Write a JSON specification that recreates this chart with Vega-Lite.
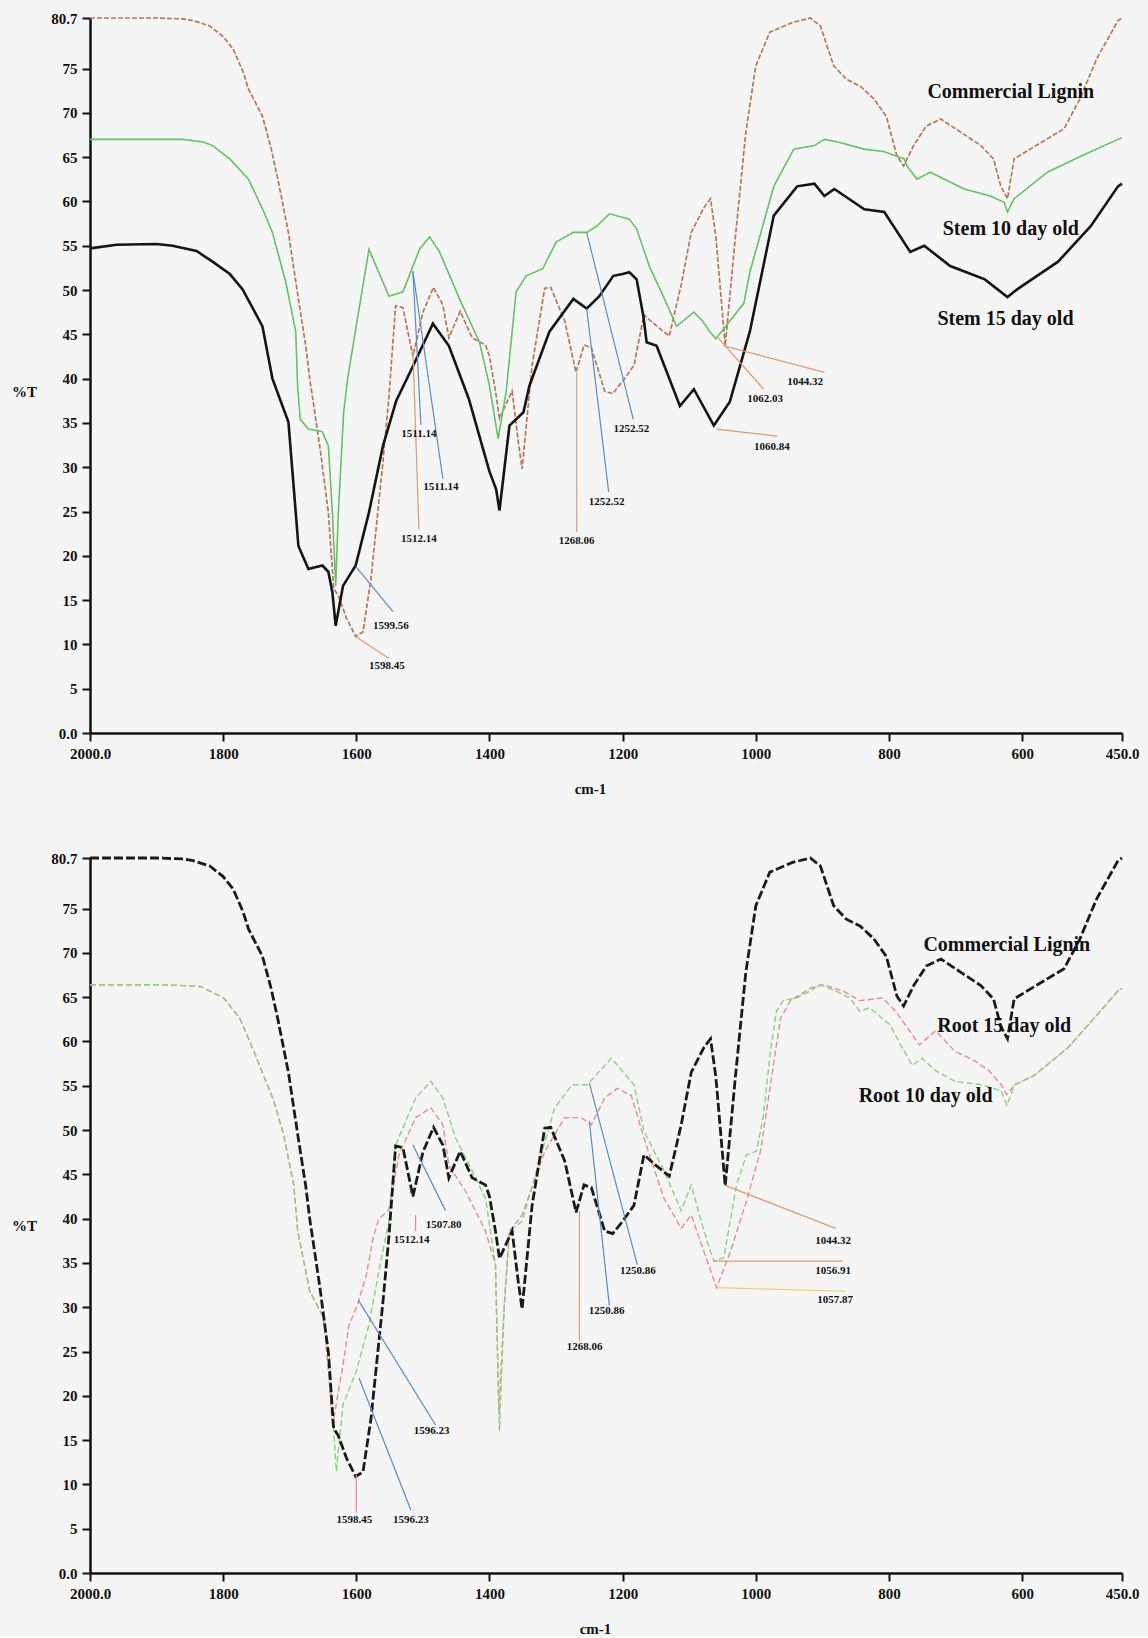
{
  "$schema": "https://vega.github.io/schema/vega-lite/v6.json",
  "background": "#f5f5f5",
  "padding": {"left": 11, "top": 11, "right": 10, "bottom": 0},
  "columns": 1,
  "spacing": 55,
  "resolve": {"scale": {"color": "independent"}},
  "config": {
    "view": {"stroke": null},
    "font": "Liberation Serif",
    "axis": {"domainColor": "#111", "domainWidth": 2.5, "tickColor": "#111", "tickWidth": 2, "tickSize": 8, "labelFont": "Liberation Serif", "labelFontSize": 15, "labelFontWeight": "bold", "labelColor": "#111", "grid": false, "titleFont": "Liberation Serif", "titleFontSize": 15, "titleFontWeight": "bold", "titleColor": "#111", "labelPadding": 5}
  },
  "datasets": {
    "lignin": [
      {"wn":2000,"T":80.7},{"wn":1950,"T":80.7},{"wn":1900,"T":80.7},{"wn":1860,"T":80.6},{"wn":1845,"T":80.4},{"wn":1820,"T":79.8},{"wn":1800,"T":78.6},{"wn":1785,"T":77.2},{"wn":1770,"T":74.6},{"wn":1762,"T":72.7},{"wn":1741,"T":69.6},{"wn":1728,"T":66},{"wn":1717,"T":62.2},{"wn":1702,"T":56.5},{"wn":1687,"T":49},{"wn":1676,"T":43.7},{"wn":1670,"T":40},{"wn":1655,"T":32.4},{"wn":1642,"T":24.9},{"wn":1634,"T":16.3},{"wn":1627,"T":15.5},{"wn":1615,"T":13},{"wn":1601,"T":10.9},{"wn":1590,"T":11.4},{"wn":1578,"T":17.4},{"wn":1560,"T":30.6},{"wn":1551,"T":38},{"wn":1541,"T":48.2},{"wn":1530,"T":48},{"wn":1515,"T":42.5},{"wn":1500,"T":47.5},{"wn":1484,"T":50.3},{"wn":1470,"T":48.3},{"wn":1461,"T":44.6},{"wn":1444,"T":47.6},{"wn":1426,"T":44.6},{"wn":1406,"T":43.8},{"wn":1400,"T":42.5},{"wn":1391,"T":38.6},{"wn":1385,"T":35.5},{"wn":1366,"T":38.6},{"wn":1357,"T":33},{"wn":1351,"T":29.8},{"wn":1336,"T":41.5},{"wn":1317,"T":50.2},{"wn":1308,"T":50.3},{"wn":1287,"T":46.5},{"wn":1270,"T":40.7},{"wn":1258,"T":43.8},{"wn":1247,"T":43.5},{"wn":1227,"T":38.6},{"wn":1215,"T":38.3},{"wn":1200,"T":39.7},{"wn":1183,"T":41.5},{"wn":1168,"T":47.2},{"wn":1150,"T":46},{"wn":1130,"T":44.8},{"wn":1112,"T":50.6},{"wn":1097,"T":56.5},{"wn":1078,"T":59.3},{"wn":1068,"T":60.3},{"wn":1060,"T":56},{"wn":1052,"T":49},{"wn":1046,"T":43.7},{"wn":1030,"T":56.5},{"wn":1015,"T":67.8},{"wn":1000,"T":75.3},{"wn":979,"T":79.1},{"wn":945,"T":80.2},{"wn":918,"T":80.7},{"wn":903,"T":79.8},{"wn":883,"T":75.3},{"wn":864,"T":73.8},{"wn":843,"T":73},{"wn":823,"T":71.6},{"wn":804,"T":69.6},{"wn":788,"T":65.1},{"wn":778,"T":64},{"wn":763,"T":66.3},{"wn":744,"T":68.5},{"wn":722,"T":69.3},{"wn":692,"T":67.8},{"wn":662,"T":66.3},{"wn":643,"T":64.8},{"wn":632,"T":61.7},{"wn":622,"T":60.3},{"wn":612,"T":64.8},{"wn":588,"T":65.9},{"wn":537,"T":68.2},{"wn":513,"T":71.6},{"wn":488,"T":76.1},{"wn":456,"T":80.4},{"wn":450,"T":80.7}
    ],
    "stem10": [
      {"wn":2000,"T":67},{"wn":1950,"T":67},{"wn":1900,"T":67},{"wn":1861,"T":67},{"wn":1830,"T":66.7},{"wn":1816,"T":66.3},{"wn":1790,"T":64.8},{"wn":1762,"T":62.5},{"wn":1740,"T":59},{"wn":1726,"T":56.5},{"wn":1706,"T":50.9},{"wn":1691,"T":45.3},{"wn":1688,"T":38.8},{"wn":1684,"T":35.4},{"wn":1672,"T":34.3},{"wn":1651,"T":34},{"wn":1642,"T":32.4},{"wn":1636,"T":24.9},{"wn":1631,"T":16.6},{"wn":1627,"T":24.9},{"wn":1619,"T":36.2},{"wn":1613,"T":40},{"wn":1600,"T":46},{"wn":1581,"T":54.6},{"wn":1551,"T":49.3},{"wn":1530,"T":49.8},{"wn":1505,"T":54.6},{"wn":1490,"T":56},{"wn":1475,"T":54.3},{"wn":1445,"T":49},{"wn":1415,"T":44.1},{"wn":1400,"T":39.2},{"wn":1387,"T":33.2},{"wn":1375,"T":38.5},{"wn":1360,"T":49.8},{"wn":1345,"T":51.6},{"wn":1320,"T":52.4},{"wn":1300,"T":55.4},{"wn":1274,"T":56.5},{"wn":1254,"T":56.5},{"wn":1239,"T":57.2},{"wn":1220,"T":58.6},{"wn":1190,"T":58},{"wn":1179,"T":56.9},{"wn":1160,"T":52.7},{"wn":1139,"T":49.3},{"wn":1119,"T":45.9},{"wn":1093,"T":47.5},{"wn":1080,"T":46.5},{"wn":1069,"T":45.3},{"wn":1060,"T":44.5},{"wn":1039,"T":46.5},{"wn":1018,"T":48.5},{"wn":1009,"T":52},{"wn":973,"T":61.7},{"wn":943,"T":65.9},{"wn":912,"T":66.3},{"wn":897,"T":67},{"wn":877,"T":66.7},{"wn":837,"T":65.9},{"wn":807,"T":65.6},{"wn":777,"T":64.8},{"wn":773,"T":64},{"wn":758,"T":62.5},{"wn":738,"T":63.3},{"wn":687,"T":61.4},{"wn":648,"T":60.6},{"wn":627,"T":59.9},{"wn":622,"T":58.8},{"wn":612,"T":60.3},{"wn":562,"T":63.3},{"wn":512,"T":65.1},{"wn":456,"T":67},{"wn":450,"T":67.2}
    ],
    "stem15": [
      {"wn":2000,"T":54.7},{"wn":1960,"T":55.1},{"wn":1900,"T":55.2},{"wn":1876,"T":55},{"wn":1840,"T":54.4},{"wn":1816,"T":53.2},{"wn":1790,"T":51.8},{"wn":1771,"T":50.1},{"wn":1741,"T":45.9},{"wn":1726,"T":40},{"wn":1702,"T":35.1},{"wn":1691,"T":24.9},{"wn":1687,"T":21.1},{"wn":1672,"T":18.5},{"wn":1651,"T":18.9},{"wn":1642,"T":18.2},{"wn":1636,"T":15.9},{"wn":1631,"T":12.1},{"wn":1620,"T":16.6},{"wn":1601,"T":18.9},{"wn":1581,"T":24.9},{"wn":1560,"T":32.4},{"wn":1540,"T":37.5},{"wn":1515,"T":41.4},{"wn":1485,"T":46.2},{"wn":1461,"T":43.7},{"wn":1431,"T":37.7},{"wn":1400,"T":29.5},{"wn":1390,"T":27.5},{"wn":1385,"T":25.1},{"wn":1370,"T":34.7},{"wn":1349,"T":36.2},{"wn":1340,"T":39.2},{"wn":1310,"T":45.3},{"wn":1274,"T":49},{"wn":1254,"T":47.9},{"wn":1235,"T":49.3},{"wn":1214,"T":51.6},{"wn":1200,"T":51.8},{"wn":1190,"T":52},{"wn":1179,"T":51.2},{"wn":1169,"T":47.1},{"wn":1164,"T":44.1},{"wn":1149,"T":43.7},{"wn":1114,"T":36.9},{"wn":1093,"T":38.8},{"wn":1063,"T":34.7},{"wn":1039,"T":37.4},{"wn":1009,"T":45.3},{"wn":973,"T":58.4},{"wn":938,"T":61.7},{"wn":912,"T":62},{"wn":897,"T":60.6},{"wn":882,"T":61.4},{"wn":837,"T":59.1},{"wn":807,"T":58.8},{"wn":768,"T":54.3},{"wn":747,"T":55},{"wn":708,"T":52.7},{"wn":656,"T":51.2},{"wn":622,"T":49.2},{"wn":607,"T":50.1},{"wn":546,"T":53.2},{"wn":497,"T":57.2},{"wn":456,"T":61.7},{"wn":450,"T":62}
    ],
    "root10": [
      {"wn":2000,"T":66.4},{"wn":1950,"T":66.4},{"wn":1900,"T":66.4},{"wn":1860,"T":66.3},{"wn":1834,"T":66.2},{"wn":1799,"T":64.9},{"wn":1775,"T":62.6},{"wn":1754,"T":58.9},{"wn":1724,"T":53.3},{"wn":1709,"T":49.4},{"wn":1694,"T":43.8},{"wn":1688,"T":38.6},{"wn":1670,"T":31.8},{"wn":1649,"T":28.8},{"wn":1640,"T":24},{"wn":1634,"T":16},{"wn":1630,"T":11.5},{"wn":1620,"T":19},{"wn":1600,"T":22.8},{"wn":1581,"T":28},{"wn":1566,"T":34.1},{"wn":1551,"T":39.7},{"wn":1541,"T":48.3},{"wn":1511,"T":53.6},{"wn":1488,"T":55.5},{"wn":1470,"T":53.6},{"wn":1451,"T":49.1},{"wn":1426,"T":45.4},{"wn":1406,"T":42.3},{"wn":1391,"T":34.8},{"wn":1385,"T":16},{"wn":1378,"T":30},{"wn":1370,"T":38.6},{"wn":1351,"T":39.7},{"wn":1327,"T":46},{"wn":1302,"T":52.5},{"wn":1276,"T":55.1},{"wn":1253,"T":55.1},{"wn":1217,"T":58.1},{"wn":1183,"T":55.1},{"wn":1168,"T":49.9},{"wn":1138,"T":45.4},{"wn":1112,"T":40.9},{"wn":1097,"T":43.8},{"wn":1078,"T":38.6},{"wn":1063,"T":35.2},{"wn":1048,"T":35.6},{"wn":1029,"T":43.8},{"wn":1014,"T":47.2},{"wn":999,"T":47.6},{"wn":989,"T":51.4},{"wn":978,"T":58.9},{"wn":969,"T":63.4},{"wn":959,"T":64.6},{"wn":939,"T":64.9},{"wn":918,"T":65.7},{"wn":904,"T":66.4},{"wn":880,"T":65.7},{"wn":859,"T":64.9},{"wn":844,"T":63.4},{"wn":829,"T":63.8},{"wn":799,"T":61.9},{"wn":780,"T":59.3},{"wn":765,"T":57.3},{"wn":750,"T":58.1},{"wn":730,"T":56.7},{"wn":701,"T":55.5},{"wn":660,"T":55.1},{"wn":631,"T":54.4},{"wn":623,"T":52.8},{"wn":611,"T":55.1},{"wn":581,"T":56.2},{"wn":531,"T":59.3},{"wn":492,"T":62.6},{"wn":456,"T":65.7},{"wn":450,"T":66}
    ],
    "root15": [
      {"wn":2000,"T":66.4},{"wn":1950,"T":66.4},{"wn":1900,"T":66.4},{"wn":1860,"T":66.3},{"wn":1834,"T":66.2},{"wn":1799,"T":64.9},{"wn":1775,"T":62.6},{"wn":1754,"T":58.9},{"wn":1724,"T":53.3},{"wn":1709,"T":49.4},{"wn":1694,"T":43.8},{"wn":1688,"T":38.6},{"wn":1670,"T":31.8},{"wn":1649,"T":28.8},{"wn":1641,"T":22},{"wn":1636,"T":16.5},{"wn":1620,"T":23.5},{"wn":1611,"T":28},{"wn":1600,"T":29.9},{"wn":1585,"T":33.6},{"wn":1575,"T":37.8},{"wn":1566,"T":40},{"wn":1551,"T":41},{"wn":1536,"T":47.2},{"wn":1511,"T":51.4},{"wn":1488,"T":52.5},{"wn":1470,"T":50.6},{"wn":1461,"T":46},{"wn":1436,"T":43.1},{"wn":1406,"T":38.6},{"wn":1391,"T":34.8},{"wn":1386,"T":18},{"wn":1378,"T":30},{"wn":1370,"T":38.6},{"wn":1351,"T":40.4},{"wn":1317,"T":47.6},{"wn":1287,"T":51.4},{"wn":1262,"T":51.4},{"wn":1247,"T":50.6},{"wn":1227,"T":53.6},{"wn":1208,"T":54.7},{"wn":1187,"T":53.9},{"wn":1168,"T":49.1},{"wn":1138,"T":42.3},{"wn":1112,"T":38.9},{"wn":1097,"T":40.4},{"wn":1078,"T":36.3},{"wn":1059,"T":32.2},{"wn":1038,"T":36.3},{"wn":1014,"T":42},{"wn":993,"T":47.6},{"wn":978,"T":55.1},{"wn":963,"T":62.6},{"wn":948,"T":64.6},{"wn":918,"T":66},{"wn":899,"T":66.4},{"wn":869,"T":65.7},{"wn":844,"T":64.6},{"wn":810,"T":64.9},{"wn":790,"T":63.4},{"wn":769,"T":61.2},{"wn":754,"T":59.6},{"wn":730,"T":61.2},{"wn":701,"T":58.9},{"wn":671,"T":57.8},{"wn":650,"T":56.7},{"wn":631,"T":55.1},{"wn":623,"T":54},{"wn":611,"T":55.1},{"wn":581,"T":56.2},{"wn":531,"T":59.3},{"wn":492,"T":62.6},{"wn":456,"T":65.7},{"wn":450,"T":66}
    ],
    "topLeaders": [
      {"wn":1601,"T":10.9,"wn2":1551,"T2":8.4,"g":"A"},
      {"wn":1601,"T":18.8,"wn2":1545,"T2":13.7,"g":"B"},
      {"wn":1515,"T":52.1,"wn2":1470,"T2":28.7,"g":"B"},
      {"wn":1515,"T":52.1,"wn2":1503,"T2":34.8,"g":"B"},
      {"wn":1515,"T":43.3,"wn2":1506,"T2":23,"g":"A"},
      {"wn":1269,"T":40.7,"wn2":1269,"T2":22.7,"g":"A"},
      {"wn":1254,"T":47.9,"wn2":1221,"T2":27.2,"g":"B"},
      {"wn":1254,"T":56.5,"wn2":1184,"T2":35.4,"g":"B"},
      {"wn":1059,"T":44.8,"wn2":988,"T2":38.8,"g":"A"},
      {"wn":1048,"T":43.7,"wn2":897,"T2":40.7,"g":"A"},
      {"wn":1059,"T":34.3,"wn2":968,"T2":33.5,"g":"A"}
    ],
    "topBands": [
      {"wn":1554,"T":7.6,"label":"1598.45"},
      {"wn":1548,"T":12.1,"label":"1599.56"},
      {"wn":1506,"T":33.7,"label":"1511.14"},
      {"wn":1473,"T":27.8,"label":"1511.14"},
      {"wn":1506,"T":21.9,"label":"1512.14"},
      {"wn":1269,"T":21.7,"label":"1268.06"},
      {"wn":1224,"T":26.1,"label":"1252.52"},
      {"wn":1187,"T":34.3,"label":"1252.52"},
      {"wn":986,"T":37.7,"label":"1062.03"},
      {"wn":926,"T":39.6,"label":"1044.32"},
      {"wn":976,"T":32.3,"label":"1060.84"}
    ],
    "topNames": [
      {"wn":617,"T":72.3,"label":"Commercial Lignin"},
      {"wn":617,"T":56.9,"label":"Stem 10 day old"},
      {"wn":625,"T":46.7,"label":"Stem 15 day old"}
    ],
    "bottomLeaders": [
      {"wn":1511,"T":40.4,"wn2":1511,"T2":38.6,"g":"P"},
      {"wn":1515,"T":48.3,"wn2":1466,"T2":40.9,"g":"B"},
      {"wn":1597,"T":30.8,"wn2":1481,"T2":16.7,"g":"B"},
      {"wn":1596,"T":22,"wn2":1518,"T2":7.1,"g":"B"},
      {"wn":1600,"T":11.1,"wn2":1600,"T2":6.8,"g":"P"},
      {"wn":1265,"T":40.9,"wn2":1265,"T2":26.2,"g":"A"},
      {"wn":1250,"T":51,"wn2":1220,"T2":30.2,"g":"B"},
      {"wn":1250,"T":55.3,"wn2":1178,"T2":34.8,"g":"B"},
      {"wn":1048,"T":43.8,"wn2":880,"T2":38.9,"g":"A"},
      {"wn":1063,"T":35.2,"wn2":869,"T2":35.2,"g":"A"},
      {"wn":1059,"T":32.2,"wn2":865,"T2":31.8,"g":"Y"}
    ],
    "bottomBands": [
      {"wn":1517,"T":37.6,"label":"1512.14"},
      {"wn":1469,"T":39.3,"label":"1507.80"},
      {"wn":1487,"T":16,"label":"1596.23"},
      {"wn":1518,"T":6,"label":"1596.23"},
      {"wn":1603,"T":6,"label":"1598.45"},
      {"wn":1257,"T":25.5,"label":"1268.06"},
      {"wn":1224,"T":29.6,"label":"1250.86"},
      {"wn":1177,"T":34.1,"label":"1250.86"},
      {"wn":884,"T":37.5,"label":"1044.32"},
      {"wn":884,"T":34.1,"label":"1056.91"},
      {"wn":881,"T":30.8,"label":"1057.87"}
    ],
    "bottomNames": [
      {"wn":623,"T":70.9,"label":"Commercial Lignin"},
      {"wn":627,"T":61.7,"label":"Root 15 day old"},
      {"wn":745,"T":53.8,"label":"Root 10 day old"}
    ]
  },
  "concat": [
    {
      "width": 1032,
      "height": 715,
      "encoding": {
        "x": {"field": "wn", "type": "quantitative", "scale": {"domain": [450, 2000], "reverse": true, "nice": false, "zero": false},
          "axis": {"values": [2000, 1800, 1600, 1400, 1200, 1000, 800, 600, 450], "labelExpr": "datum.value == 2000 ? '2000.0' : datum.value == 450 ? '450.0' : format(datum.value, 'd')", "title": "cm-1", "titleX": 500, "titleY": 55, "titleBaseline": "middle", "labelFlush": false}},
        "y": {"field": "T", "type": "quantitative", "scale": {"domain": [0, 80.7], "nice": false, "zero": true},
          "axis": {"values": [0, 5, 10, 15, 20, 25, 30, 35, 40, 45, 50, 55, 60, 65, 70, 75, 80.7], "labelExpr": "datum.value == 0 ? '0.0' : datum.value == 80.7 ? '80.7' : format(datum.value, 'd')", "title": "%T", "titleAngle": 0, "titleX": -66, "titleY": 373, "titleAlign": "center", "titleBaseline": "middle"}}
      },
      "layer": [
        {"data": {"name": "lignin"}, "mark": {"type": "line", "color": "#b57658", "strokeWidth": 1.7, "strokeDash": [5, 2]}},
        {"data": {"name": "stem10"}, "mark": {"type": "line", "color": "#66c066", "strokeWidth": 1.6}},
        {"data": {"name": "stem15"}, "mark": {"type": "line", "color": "#151515", "strokeWidth": 2.6}},
        {"data": {"name": "topLeaders"}, "mark": {"type": "rule", "strokeWidth": 1.2},
          "encoding": {"x2": {"field": "wn2"}, "y2": {"field": "T2"},
            "color": {"field": "g", "type": "nominal", "scale": {"domain": ["A", "B", "P", "Y"], "range": ["#dc9a74", "#5b8cc0", "#e0889a", "#e6cf6a"]}, "legend": null}}},
        {"data": {"name": "topBands"}, "mark": {"type": "text", "fontSize": 11, "fontWeight": "bold", "color": "#111", "align": "center", "baseline": "middle"},
          "encoding": {"text": {"field": "label"}}},
        {"data": {"name": "topNames"}, "mark": {"type": "text", "fontSize": 20, "fontWeight": "bold", "color": "#111", "align": "center", "baseline": "middle"},
          "encoding": {"text": {"field": "label"}}}
      ]
    },
    {
      "width": 1032,
      "height": 715,
      "encoding": {
        "x": {"field": "wn", "type": "quantitative", "scale": {"domain": [450, 2000], "reverse": true, "nice": false, "zero": false},
          "axis": {"values": [2000, 1800, 1600, 1400, 1200, 1000, 800, 600, 450], "labelExpr": "datum.value == 2000 ? '2000.0' : datum.value == 450 ? '450.0' : format(datum.value, 'd')", "title": "cm-1", "titleX": 505, "titleY": 55, "titleBaseline": "middle", "labelFlush": false}},
        "y": {"field": "T", "type": "quantitative", "scale": {"domain": [0, 80.7], "nice": false, "zero": true},
          "axis": {"values": [0, 5, 10, 15, 20, 25, 30, 35, 40, 45, 50, 55, 60, 65, 70, 75, 80.7], "labelExpr": "datum.value == 0 ? '0.0' : datum.value == 80.7 ? '80.7' : format(datum.value, 'd')", "title": "%T", "titleAngle": 0, "titleX": -66, "titleY": 367, "titleAlign": "center", "titleBaseline": "middle"}}
      },
      "layer": [
        {"data": {"name": "root15"}, "mark": {"type": "line", "color": "#e58c8c", "strokeWidth": 1.4, "strokeDash": [6, 3]}},
        {"data": {"name": "root10"}, "mark": {"type": "line", "color": "#8bcf7e", "strokeWidth": 1.4, "strokeDash": [6, 3]}},
        {"data": {"name": "lignin"}, "mark": {"type": "line", "color": "#1a1a1a", "strokeWidth": 2.8, "strokeDash": [9, 3]}},
        {"data": {"name": "bottomLeaders"}, "mark": {"type": "rule", "strokeWidth": 1.2},
          "encoding": {"x2": {"field": "wn2"}, "y2": {"field": "T2"},
            "color": {"field": "g", "type": "nominal", "scale": {"domain": ["A", "B", "P", "Y"], "range": ["#dc9a74", "#5b8cc0", "#e0889a", "#e6cf6a"]}, "legend": null}}},
        {"data": {"name": "bottomBands"}, "mark": {"type": "text", "fontSize": 11, "fontWeight": "bold", "color": "#111", "align": "center", "baseline": "middle"},
          "encoding": {"text": {"field": "label"}}},
        {"data": {"name": "bottomNames"}, "mark": {"type": "text", "fontSize": 20, "fontWeight": "bold", "color": "#111", "align": "center", "baseline": "middle"},
          "encoding": {"text": {"field": "label"}}}
      ]
    }
  ]
}
